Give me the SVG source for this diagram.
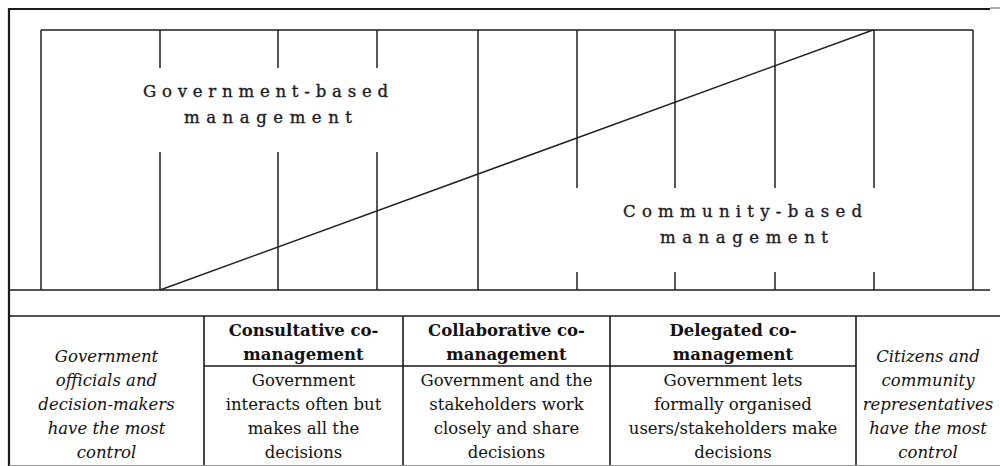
<svg xmlns="http://www.w3.org/2000/svg" width="1000" height="466" viewBox="0 0 1000 466">
<style>
.frame{stroke:#1a1a1a;stroke-width:2.2;fill:none}
.grid{stroke:#1e1e1e;stroke-width:1.5;fill:none}
.tbl{stroke:#1a1a1a;stroke-width:1.6;fill:none}
.diag{stroke:#222;stroke-width:1.5;fill:none}
.spaced{font-family:"DejaVu Serif","Liberation Serif",serif;font-size:16.5px;fill:#1a1a26;stroke:#1a1a26;stroke-width:0.35}
.t{font-family:"DejaVu Serif","Liberation Serif",serif;font-size:16.5px;fill:#111;text-anchor:middle}
.b{font-weight:bold}
.i{font-style:italic}
</style>
<rect width="1000" height="466" fill="#fff"/>
<g id="frame">
<line class="frame" x1="9" y1="9" x2="990" y2="9"/>
<line x1="990" y1="8" x2="1000" y2="8" stroke="#555" stroke-width="1"/>
<line class="frame" x1="9" y1="8" x2="9" y2="466"/>
<line class="grid" x1="9" y1="290" x2="990" y2="290"/>
</g>
<g id="scale">
<line class="grid" x1="41" y1="30" x2="973" y2="30"/>
<line class="grid" x1="41" y1="30" x2="41" y2="290"/>
<line class="grid" x1="973" y1="30" x2="973" y2="290"/>
<line class="grid" x1="160" y1="30" x2="160" y2="68"/>
<line class="grid" x1="160" y1="152" x2="160" y2="290"/>
<line class="grid" x1="278" y1="30" x2="278" y2="68"/>
<line class="grid" x1="278" y1="152" x2="278" y2="290"/>
<line class="grid" x1="377" y1="30" x2="377" y2="68"/>
<line class="grid" x1="377" y1="152" x2="377" y2="290"/>
<line class="grid" x1="478" y1="30" x2="478" y2="290"/>
<line class="grid" x1="577" y1="30" x2="577" y2="188"/>
<line class="grid" x1="577" y1="272" x2="577" y2="290"/>
<line class="grid" x1="675" y1="30" x2="675" y2="188"/>
<line class="grid" x1="675" y1="272" x2="675" y2="290"/>
<line class="grid" x1="775" y1="30" x2="775" y2="188"/>
<line class="grid" x1="775" y1="272" x2="775" y2="290"/>
<line class="grid" x1="874" y1="30" x2="874" y2="188"/>
<line class="grid" x1="874" y1="272" x2="874" y2="290"/>
</g>
<g id="connectors">
<line class="diag" x1="160" y1="290" x2="873" y2="30"/>
</g>
<g id="government-based">
<text class="spaced" x="143" y="97" textLength="245" lengthAdjust="spacing">Government-based</text>
<text class="spaced" x="184" y="123" textLength="168" lengthAdjust="spacing">management</text>
</g>
<g id="community-based">
<text class="spaced" x="623" y="217" textLength="239" lengthAdjust="spacing">Community-based</text>
<text class="spaced" x="660" y="243" textLength="168" lengthAdjust="spacing">management</text>
</g>
<g id="table-lines">
<line class="tbl" x1="9" y1="316" x2="1000" y2="316"/>
<line class="tbl" x1="204" y1="316" x2="204" y2="466"/>
<line class="tbl" x1="403" y1="316" x2="403" y2="466"/>
<line class="tbl" x1="610" y1="316" x2="610" y2="466"/>
<line class="tbl" x1="856" y1="316" x2="856" y2="466"/>
<line class="tbl" x1="204" y1="366" x2="856" y2="366"/>
<line x1="9" y1="465.5" x2="1000" y2="465.5" stroke="#999" stroke-width="1"/>
</g>
<g id="col-government">
<text class="t i" x="106.5" y="362">Government</text>
<text class="t i" x="106.5" y="386">officials and</text>
<text class="t i" x="106.5" y="410">decision-makers</text>
<text class="t i" x="106.5" y="434">have the most</text>
<text class="t i" x="106.5" y="458">control</text>
</g>
<g id="col-consultative">
<text class="t b" x="303.5" y="336">Consultative co-</text>
<text class="t b" x="303.5" y="360">management</text>
<text class="t" x="303.5" y="386">Government</text>
<text class="t" x="303.5" y="410">interacts often but</text>
<text class="t" x="303.5" y="434">makes all the</text>
<text class="t" x="303.5" y="458">decisions</text>
</g>
<g id="col-collaborative">
<text class="t b" x="506.5" y="336">Collaborative co-</text>
<text class="t b" x="506.5" y="360">management</text>
<text class="t" x="506.5" y="386">Government and the</text>
<text class="t" x="506.5" y="410">stakeholders work</text>
<text class="t" x="506.5" y="434">closely and share</text>
<text class="t" x="506.5" y="458">decisions</text>
</g>
<g id="col-delegated">
<text class="t b" x="733" y="336">Delegated co-</text>
<text class="t b" x="733" y="360">management</text>
<text class="t" x="733" y="386">Government lets</text>
<text class="t" x="733" y="410">formally organised</text>
<text class="t" x="733" y="434">users/stakeholders make</text>
<text class="t" x="733" y="458">decisions</text>
</g>
<g id="col-citizens">
<text class="t i" x="928" y="362">Citizens and</text>
<text class="t i" x="928" y="386">community</text>
<text class="t i" x="928" y="410">representatives</text>
<text class="t i" x="928" y="434">have the most</text>
<text class="t i" x="928" y="458">control</text>
</g>
</svg>
